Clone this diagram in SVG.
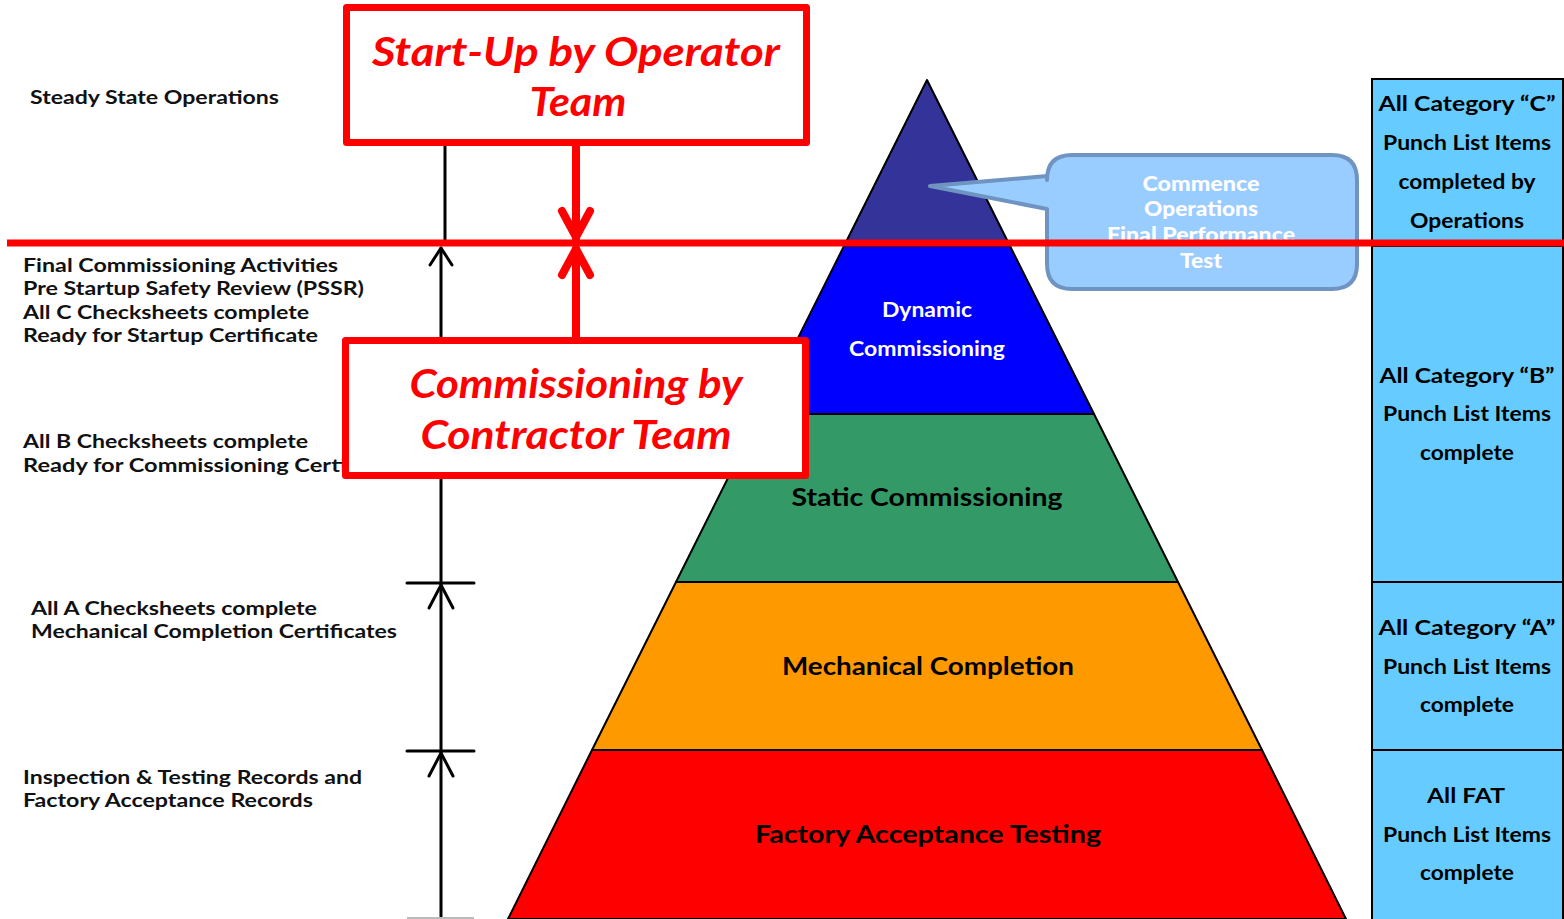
<svg xmlns="http://www.w3.org/2000/svg" width="1564" height="919" viewBox="0 0 1564 919">
<style>
text{font-family:Lato,"Liberation Sans",sans-serif;font-weight:bold}
.lt{font-size:19px;fill:#111}
.pt{font-size:24px;fill:#000;text-anchor:middle}
.pw{font-size:20px;fill:#fff;text-anchor:middle}
.rt{font-size:20px;fill:#000;text-anchor:middle}
.ct{font-size:20px;fill:#fff;text-anchor:middle;font-weight:900}
.bt{font-size:40px;fill:#f00;font-style:italic;text-anchor:middle}
.layer{stroke:#000;stroke-width:2;stroke-linejoin:round}
.col{fill:#66CCFF;stroke:#000;stroke-width:2}
.blk{fill:none;stroke:#000;stroke-width:3;stroke-linecap:round;stroke-linejoin:round}
.red{fill:none;stroke:#f00;stroke-width:8;stroke-linecap:round;stroke-linejoin:round}
.box{fill:#fff;stroke:#f00;stroke-width:7;stroke-linejoin:round}
</style>
<rect width="1564" height="919" fill="#fff"/>

<g id="pyramid">
<polygon class="layer" fill="#333399" points="927,80 844,246 1010,246"/>
<polygon class="layer" fill="#0000FF" points="844,246 1010,246 1094,414 760,414"/>
<polygon class="layer" fill="#339966" points="760,414 1094,414 1178,582 676,582"/>
<polygon class="layer" fill="#FF9900" points="676,582 1178,582 1262,750 592,750"/>
<polygon class="layer" fill="#FF0000" points="592,750 1262,750 1346,919 508,919"/>
<text class="pw" x="927" y="317" textLength="90" lengthAdjust="spacingAndGlyphs">Dynamic</text>
<text class="pw" x="927" y="356" textLength="156" lengthAdjust="spacingAndGlyphs">Commissioning</text>
<text class="pt" x="927" y="506" textLength="271" lengthAdjust="spacingAndGlyphs">Static Commissioning</text>
<text class="pt" x="928" y="675" textLength="292" lengthAdjust="spacingAndGlyphs">Mechanical Completion</text>
<text class="pt" x="928" y="843" textLength="346" lengthAdjust="spacingAndGlyphs">Factory Acceptance Testing</text>
</g>

<g id="callout">
<path d="M1072,155 H1332 Q1357,155 1357,180 V264 Q1357,289 1332,289 H1072 Q1047,289 1047,264 V209 L930,186 L1047,176 V180 Q1047,155 1072,155 Z" fill="#99CCFF" stroke="#6F94C2" stroke-width="4" stroke-linejoin="round"/>
<text class="ct" x="1201" y="191" textLength="117" lengthAdjust="spacingAndGlyphs">Commence</text>
<text class="ct" x="1201" y="216" textLength="114" lengthAdjust="spacingAndGlyphs">Operations</text>
<text class="ct" x="1201" y="242" textLength="188" lengthAdjust="spacingAndGlyphs">Final Performance</text>
<text class="ct" x="1201" y="268" textLength="42" lengthAdjust="spacingAndGlyphs">Test</text>
</g>

<g id="right-column">
<g id="cat-c">
<rect class="col" x="1372" y="79" width="191" height="167"/>
<text class="rt" x="1467" y="111" textLength="177" lengthAdjust="spacingAndGlyphs">All Category “C”</text>
<text class="rt" x="1467" y="150" textLength="168" lengthAdjust="spacingAndGlyphs">Punch List Items</text>
<text class="rt" x="1467" y="189" textLength="137" lengthAdjust="spacingAndGlyphs">completed by</text>
<text class="rt" x="1467" y="228" textLength="114" lengthAdjust="spacingAndGlyphs">Operations</text>
</g>
<g id="cat-b">
<rect class="col" x="1372" y="246" width="191" height="336"/>
<text class="rt" x="1467" y="383" textLength="175" lengthAdjust="spacingAndGlyphs">All Category “B”</text>
<text class="rt" x="1467" y="421" textLength="168" lengthAdjust="spacingAndGlyphs">Punch List Items</text>
<text class="rt" x="1467" y="460" textLength="94" lengthAdjust="spacingAndGlyphs">complete</text>
</g>
<g id="cat-a">
<rect class="col" x="1372" y="582" width="191" height="168"/>
<text class="rt" x="1467" y="635" textLength="177" lengthAdjust="spacingAndGlyphs">All Category “A”</text>
<text class="rt" x="1467" y="674" textLength="168" lengthAdjust="spacingAndGlyphs">Punch List Items</text>
<text class="rt" x="1467" y="712" textLength="94" lengthAdjust="spacingAndGlyphs">complete</text>
</g>
<g id="cat-fat">
<rect class="col" x="1372" y="750" width="191" height="170"/>
<text class="rt" x="1466" y="803" textLength="78" lengthAdjust="spacingAndGlyphs">All FAT</text>
<text class="rt" x="1467" y="842" textLength="168" lengthAdjust="spacingAndGlyphs">Punch List Items</text>
<text class="rt" x="1467" y="880" textLength="94" lengthAdjust="spacingAndGlyphs">complete</text>
</g>
</g>

<g id="left-labels">
<text class="lt" x="30" y="104" textLength="249" lengthAdjust="spacingAndGlyphs">Steady State Operations</text>
<text class="lt" x="23" y="272" textLength="315" lengthAdjust="spacingAndGlyphs">Final Commissioning Activities</text>
<text class="lt" x="23" y="295" textLength="341" lengthAdjust="spacingAndGlyphs">Pre Startup Safety Review (PSSR)</text>
<text class="lt" x="23" y="319" textLength="286" lengthAdjust="spacingAndGlyphs">All C Checksheets complete</text>
<text class="lt" x="23" y="342" textLength="295" lengthAdjust="spacingAndGlyphs">Ready for Startup Certificate</text>
<text class="lt" x="23" y="448" textLength="285" lengthAdjust="spacingAndGlyphs">All B Checksheets complete</text>
<text class="lt" x="23" y="472" textLength="382" lengthAdjust="spacingAndGlyphs">Ready for Commissioning Certificate</text>
<text class="lt" x="31" y="615" textLength="286" lengthAdjust="spacingAndGlyphs">All A Checksheets complete</text>
<text class="lt" x="31" y="638" textLength="366" lengthAdjust="spacingAndGlyphs">Mechanical Completion Certificates</text>
<text class="lt" x="23" y="784" textLength="339" lengthAdjust="spacingAndGlyphs">Inspection &amp; Testing Records and</text>
<text class="lt" x="23" y="807" textLength="290" lengthAdjust="spacingAndGlyphs">Factory Acceptance Records</text>
</g>

<g id="connectors">
<line class="blk" x1="445" y1="146" x2="445" y2="240"/>
<line class="blk" x1="441" y1="248" x2="441" y2="340"/>
<polyline class="blk" points="430,265 441,248 452,265"/>
<line class="blk" x1="441" y1="479" x2="441" y2="919"/>
<line class="blk" x1="407" y1="583" x2="474" y2="583" stroke-linecap="butt"/>
<polyline class="blk" points="429,608 441,585 453,608"/>
<line class="blk" x1="407" y1="751" x2="474" y2="751" stroke-linecap="butt"/>
<polyline class="blk" points="429,776 441,753 453,776"/>
<line x1="407" y1="918" x2="474" y2="918" stroke="#bbb" stroke-width="2"/>
<line class="red" x1="576" y1="146" x2="576" y2="238"/>
<polyline class="red" points="562,211 576,237 590,211"/>
<line class="red" x1="576" y1="249" x2="576" y2="338"/>
<polyline class="red" points="562,275 576,249 590,275"/>
</g>

<line id="divider" x1="7" y1="243" x2="1564" y2="243" stroke="#f00" stroke-width="7"/>

<g id="startup-box">
<rect class="box" x="346.5" y="7.5" width="460" height="135"/>
<text class="bt" x="576" y="66" textLength="408" lengthAdjust="spacingAndGlyphs">Start-Up by Operator</text>
<text class="bt" x="578" y="116" textLength="97" lengthAdjust="spacingAndGlyphs">Team</text>
</g>

<g id="commissioning-box">
<rect class="box" x="345.5" y="340.5" width="460" height="135"/>
<text class="bt" x="576" y="398" textLength="333" lengthAdjust="spacingAndGlyphs">Commissioning by</text>
<text class="bt" x="576" y="449" textLength="311" lengthAdjust="spacingAndGlyphs">Contractor Team</text>
</g>
</svg>
